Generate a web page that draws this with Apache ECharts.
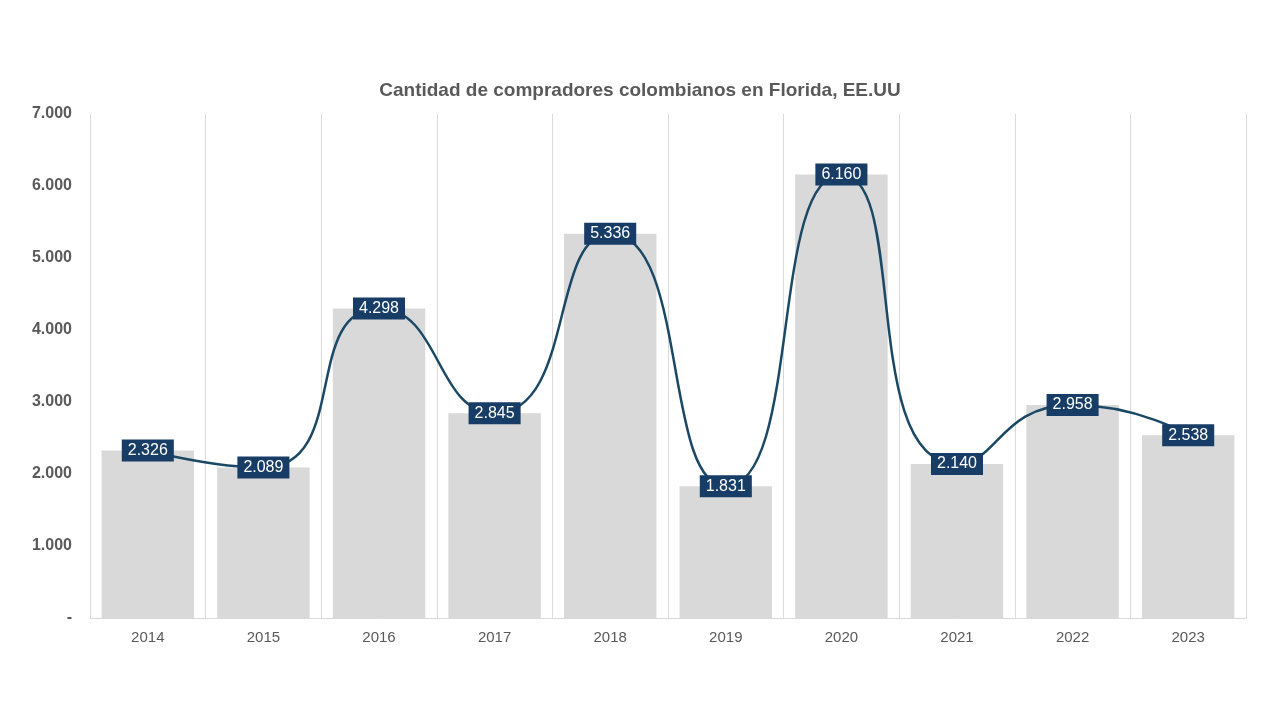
<!DOCTYPE html>
<html><head><meta charset="utf-8">
<script src="https://cdn.jsdelivr.net/npm/echarts@6/dist/echarts.min.js"></script>
<style>html,body{margin:0;padding:0;background:#fff}#c{width:1280px;height:720px}</style>
</head><body><div id="c"></div>
<script>
const years = ['2014','2015','2016','2017','2018','2019','2020','2021','2022','2023'];
const buyers = [2326, 2089, 4298, 2845, 5336, 1831, 6160, 2140, 2958, 2538];
const yTicks = [0, 1000, 2000, 3000, 4000, 5000, 6000, 7000];
const titleText = 'Cantidad de compradores colombianos en Florida, EE.UU';

function fmt(v){
  if (v === 0) return '-';
  return String(v).replace(/\B(?=(\d{3})+(?!\d))/g, '.');
}
const chart = echarts.init(document.getElementById('c'));
chart.setOption({
  backgroundColor: '#fff',
  animation: false,
  textStyle: { fontFamily: 'Liberation Sans, Arial, sans-serif' },
  title: {
    text: titleText, left: 'center', top: 76,
    textStyle: { fontSize: 19, fontWeight: 'bold', color: '#595959', fontFamily: 'Liberation Sans, Arial, sans-serif' }
  },
  grid: { left: 90, right: 34, top: 114, bottom: 102, containLabel: false },
  xAxis: {
    type: 'category', data: years,
    axisLine: { lineStyle: { color: '#d9d9d9' } },
    axisTick: { show: false },
    axisLabel: { color: '#595959', fontSize: 15, margin: 12 },
    splitLine: { show: true, lineStyle: { color: '#d9d9d9', width: 1 } }
  },
  yAxis: {
    type: 'value', min: yTicks[0], max: yTicks[yTicks.length-1], interval: 1000,
    axisLine: { show: false }, axisTick: { show: false },
    splitLine: { show: false },
    axisLabel: { color: '#595959', fontSize: 16, fontWeight: 'bold', margin: 18, formatter: fmt }
  },
  series: [
    {
      type: 'bar', data: buyers, barCategoryGap: '20%',
      itemStyle: { color: '#d9d9d9' }, z: 1
    },
    {
      type: 'line', data: buyers, smooth: 0.6, symbol: 'circle', symbolSize: 1, showSymbol: true,
      itemStyle: { color: 'rgba(0,0,0,0)' },
      lineStyle: { color: '#1b4965', width: 2.5 }, z: 3,
      label: {
        show: true, position: 'inside', formatter: p => fmt(p.value),
        color: '#fff', fontSize: 16, backgroundColor: '#173c65',
        padding: [4, 6, 2, 6]
      }
    }
  ]
});
</script></body></html>
